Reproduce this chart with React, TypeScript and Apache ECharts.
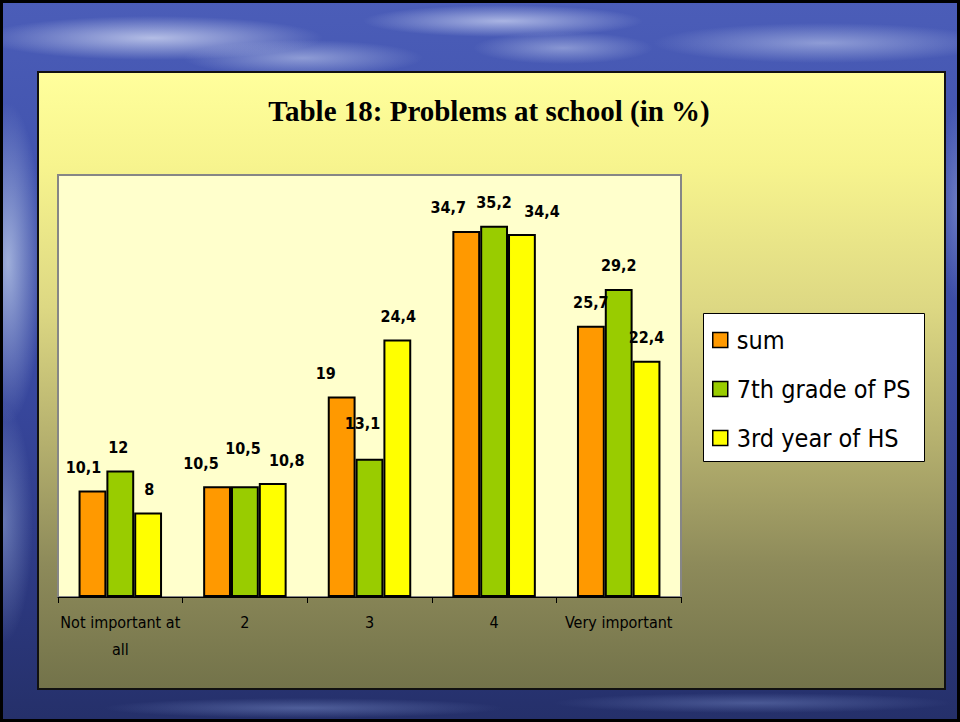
import React, { useEffect, useRef } from "react";
import * as echarts from "echarts";

const categories = ["Not important at all", "2", "3", "4", "Very important"];
const seriesNames = ["sum", "7th grade of PS", "3rd year of HS"];
const sumValues = [10.1, 10.5, 19, 34.7, 25.7];
const grade7Values = [12, 10.5, 13.1, 35.2, 29.2];
const year3Values = [8, 10.8, 24.4, 34.4, 22.4];
const titleText = "Table 18: Problems at school (in %)";

const colors = ["#FF9900", "#99CC00", "#FFFF00"];
// label nudges (as in the original slide, where overlapping labels were moved apart)
const labelShifts = [
  [[-9, 0], [-16, 0], [-16, 0], [-18, 0], [0, 0]],
  [[-2, 0], [-2, -15], [-7, -12], [0, 0], [0, 0]],
  [[1, 0], [14, 0], [1, 0], [20, 0], [0, 0]],
];

const COND = "'DejaVu Sans Condensed', 'Liberation Sans Narrow', 'DejaVu Sans', sans-serif";

export default function App() {
  const ref = useRef<HTMLDivElement>(null);
  useEffect(() => {
    if (!ref.current) return;
    const chart = echarts.init(ref.current, undefined, { renderer: "svg" });
    const allValues = [sumValues, grade7Values, year3Values];
    const fmt = (v: number) => String(v).replace(".", ",");
    chart.setOption({
      animation: false,
      backgroundColor: "transparent",
      title: {
        text: titleText,
        left: 489,
        top: 96,
        padding: 0,
        textAlign: "center",
        textStyle: {
          fontFamily: "'Liberation Serif', 'Times New Roman', serif",
          fontWeight: "bold",
          fontSize: 29,
          color: "#000",
        },
      },
      graphic: [
        {
          type: "rect",
          z: 1,
          shape: { x: 703.5, y: 313.5, width: 221, height: 148 },
          style: { fill: "#FFFFFF", stroke: "#000", lineWidth: 1 },
        },
      ],
      legend: {
        data: seriesNames,
        orient: "vertical",
        left: 712,
        top: 325,
        padding: 0,
        itemWidth: 15,
        itemHeight: 15,
        itemGap: 19,
        icon: "rect",
        itemStyle: { borderColor: "#000", borderWidth: 1.5 },
        textStyle: {
          fontFamily: COND,
          fontSize: 25,
          lineHeight: 30,
          color: "#000",
          padding: [0, 0, 0, 4],
        },
      },
      grid: {
        left: 58,
        top: 175,
        width: 623,
        height: 422,
        show: true,
        backgroundColor: "#FFFFCC",
        borderColor: "#868686",
        borderWidth: 2,
        containLabel: false,
      },
      xAxis: {
        type: "category",
        data: categories,
        axisLine: { lineStyle: { color: "#000", width: 1.2 } },
        axisTick: { show: true, length: 6, lineStyle: { color: "#000" } },
        axisLabel: {
          color: "#000",
          fontFamily: COND,
          fontSize: 16,
          lineHeight: 27,
          margin: 12,
          interval: 0,
          formatter: (v: string) => (v === "Not important at all" ? "Not important at\nall" : v),
        },
      },
      yAxis: {
        type: "value",
        min: 0,
        max: 40,
        show: false,
        splitLine: { show: false },
      },
      series: allValues.map((vals, si) => ({
        name: seriesNames[si],
        type: "bar",
        barGap: "0%",
        barCategoryGap: "33%",
        itemStyle: { color: colors[si], borderColor: "#000", borderWidth: 2 },
        label: {
          show: true,
          position: "top",
          distance: 15,
          color: "#000",
          fontFamily: COND,
          fontWeight: "bold",
          fontSize: 16,
          formatter: (p: any) => fmt(p.value),
        },
        data: vals.map((v, i) => ({ value: v, label: { offset: labelShifts[si][i] } })),
      })),
    });
    return () => chart.dispose();
  }, []);

  const bg = [
    "radial-gradient(ellipse 170px 22px at 150px 35px, rgba(215,222,245,0.75), rgba(215,222,245,0))",
    "radial-gradient(ellipse 120px 18px at 300px 55px, rgba(200,210,240,0.55), rgba(200,210,240,0))",
    "radial-gradient(ellipse 140px 16px at 500px 18px, rgba(210,218,245,0.7), rgba(210,218,245,0))",
    "radial-gradient(ellipse 90px 16px at 560px 45px, rgba(200,210,240,0.5), rgba(200,210,240,0))",
    "radial-gradient(ellipse 170px 20px at 820px 40px, rgba(200,210,240,0.55), rgba(200,210,240,0))",
    "radial-gradient(ellipse 35px 160px at 5px 260px, rgba(200,215,240,0.7), rgba(200,215,240,0))",
    "radial-gradient(ellipse 30px 120px at 0px 520px, rgba(170,190,230,0.45), rgba(170,190,230,0))",
    "radial-gradient(ellipse 20px 100px at 955px 200px, rgba(170,185,230,0.4), rgba(170,185,230,0))",
    "radial-gradient(ellipse 200px 10px at 300px 705px, rgba(130,150,210,0.45), rgba(130,150,210,0))",
    "radial-gradient(ellipse 200px 10px at 750px 700px, rgba(130,150,210,0.4), rgba(130,150,210,0))",
    "linear-gradient(to bottom, #4b5db8 0%, #4153ad 25%, #3a4aa2 50%, #2f3c88 75%, #25306a 100%)",
  ].join(", ");

  return (
    <div style={{ position: "absolute", left: 0, top: 0, width: 960, height: 722, overflow: "hidden" }}>
      <div
        style={{
          position: "absolute",
          left: 0,
          top: 0,
          width: 960,
          height: 722,
          boxSizing: "border-box",
          border: "3px solid #000",
          background: bg,
        }}
      />
      <div
        style={{
          position: "absolute",
          left: 37,
          top: 71,
          width: 909,
          height: 619,
          boxSizing: "border-box",
          border: "2px solid #111",
          background:
            "linear-gradient(to bottom, #FFFF9C 0%, #F7F48E 15%, #DDD883 38%, #B5B06E 60%, #8D8A5A 80%, #73734A 100%)",
        }}
      />
      <div ref={ref} style={{ position: "absolute", left: 0, top: 0, width: 960, height: 722 }} />
    </div>
  );
}
